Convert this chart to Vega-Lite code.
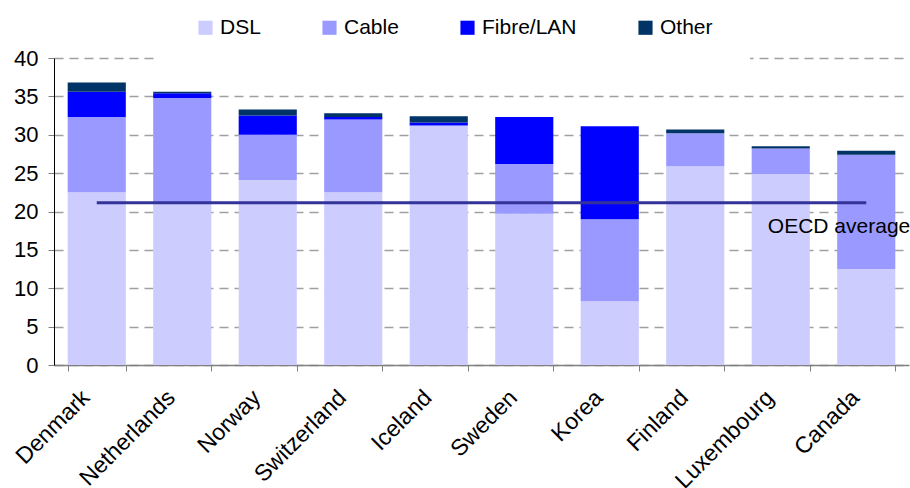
{
  "$schema": "https://vega.github.io/schema/vega-lite/v6.json",
  "width": 855,
  "height": 307,
  "autosize": {"type": "none"},
  "padding": {"left": 54, "top": 58, "right": 1, "bottom": 123},
  "background": "white",
  "config": {
    "view": {"stroke": null},
    "font": "Liberation Sans",
    "axis": {"labelFont": "Liberation Sans", "labelFontSize": 22, "labelColor": "black", "title": null, "zindex": 0},
    "axisX": {
      "labelAngle": -45, "labelAlign": "right", "labelBaseline": "top", "labelFontSize": 23,
      "labelPadding": 15, "labelOffset": -19, "tickBand": "extent", "tickColor": "#808080", "tickSize": 6,
      "domainColor": "#808080", "domainWidth": 1.5, "grid": false
    },
    "axisY": {
      "tickCount": 8, "labelOverlap": false, "tickColor": "#808080",
      "tickSize": 6, "domainColor": "black", "labelPadding": 10,
      "grid": true, "gridColor": "#a0a0a0", "gridDash": [9, 6], "gridWidth": 1.3
    },
    "legend": {"labelFont": "Liberation Sans", "labelFontSize": 21, "labelColor": "black"}
  },
  "datasets": {
    "access": [
      {"country": "Denmark", "type": "DSL", "k": 1, "value": 22.5},
      {"country": "Denmark", "type": "Cable", "k": 2, "value": 9.8},
      {"country": "Denmark", "type": "Fibre/LAN", "k": 3, "value": 3.3},
      {"country": "Denmark", "type": "Other", "k": 4, "value": 1.2},
      {"country": "Netherlands", "type": "DSL", "k": 1, "value": 21.0},
      {"country": "Netherlands", "type": "Cable", "k": 2, "value": 13.8},
      {"country": "Netherlands", "type": "Fibre/LAN", "k": 3, "value": 0.6},
      {"country": "Netherlands", "type": "Other", "k": 4, "value": 0.2},
      {"country": "Norway", "type": "DSL", "k": 1, "value": 24.1},
      {"country": "Norway", "type": "Cable", "k": 2, "value": 5.9},
      {"country": "Norway", "type": "Fibre/LAN", "k": 3, "value": 2.5},
      {"country": "Norway", "type": "Other", "k": 4, "value": 0.8},
      {"country": "Switzerland", "type": "DSL", "k": 1, "value": 22.5},
      {"country": "Switzerland", "type": "Cable", "k": 2, "value": 9.5},
      {"country": "Switzerland", "type": "Fibre/LAN", "k": 3, "value": 0.3},
      {"country": "Switzerland", "type": "Other", "k": 4, "value": 0.5},
      {"country": "Iceland", "type": "DSL", "k": 1, "value": 31.2},
      {"country": "Iceland", "type": "Cable", "k": 2, "value": 0.0},
      {"country": "Iceland", "type": "Fibre/LAN", "k": 3, "value": 0.4},
      {"country": "Iceland", "type": "Other", "k": 4, "value": 0.8},
      {"country": "Sweden", "type": "DSL", "k": 1, "value": 19.7},
      {"country": "Sweden", "type": "Cable", "k": 2, "value": 6.5},
      {"country": "Sweden", "type": "Fibre/LAN", "k": 3, "value": 6.1},
      {"country": "Sweden", "type": "Other", "k": 4, "value": 0.0},
      {"country": "Korea", "type": "DSL", "k": 1, "value": 8.3},
      {"country": "Korea", "type": "Cable", "k": 2, "value": 10.7},
      {"country": "Korea", "type": "Fibre/LAN", "k": 3, "value": 12.1},
      {"country": "Korea", "type": "Other", "k": 4, "value": 0.0},
      {"country": "Finland", "type": "DSL", "k": 1, "value": 25.9},
      {"country": "Finland", "type": "Cable", "k": 2, "value": 4.3},
      {"country": "Finland", "type": "Fibre/LAN", "k": 3, "value": 0.0},
      {"country": "Finland", "type": "Other", "k": 4, "value": 0.5},
      {"country": "Luxembourg", "type": "DSL", "k": 1, "value": 24.9},
      {"country": "Luxembourg", "type": "Cable", "k": 2, "value": 3.3},
      {"country": "Luxembourg", "type": "Fibre/LAN", "k": 3, "value": 0.0},
      {"country": "Luxembourg", "type": "Other", "k": 4, "value": 0.3},
      {"country": "Canada", "type": "DSL", "k": 1, "value": 12.5},
      {"country": "Canada", "type": "Cable", "k": 2, "value": 14.9},
      {"country": "Canada", "type": "Fibre/LAN", "k": 3, "value": 0.0},
      {"country": "Canada", "type": "Other", "k": 4, "value": 0.5}
    ],
    "oecd": [
      {"country": "Denmark", "avg": 21.15},
      {"country": "Netherlands", "avg": 21.15},
      {"country": "Norway", "avg": 21.15},
      {"country": "Switzerland", "avg": 21.15},
      {"country": "Iceland", "avg": 21.15},
      {"country": "Sweden", "avg": 21.15},
      {"country": "Korea", "avg": 21.15},
      {"country": "Finland", "avg": 21.15},
      {"country": "Luxembourg", "avg": 21.15},
      {"country": "Canada", "avg": 21.15}
    ],
    "label": [
      {"country": "Canada", "pos": 18.0, "text": "OECD average"}
    ]
  },
  "layer": [
    {
      "data": {"name": "access"},
      "mark": {"type": "bar", "opacity": 1},
      "encoding": {
        "x": {
          "field": "country", "type": "nominal", "sort": null,
          "scale": {"paddingInner": 0.32, "paddingOuter": 0.16}
        },
        "y": {
          "field": "value", "type": "quantitative", "stack": "zero",
          "scale": {"domain": [0, 40], "nice": false}
        },
        "color": {
          "field": "type", "type": "nominal",
          "scale": {"domain": ["DSL", "Cable", "Fibre/LAN", "Other"], "range": ["#CCCCFF", "#9999FF", "#0000FF", "#003366"]},
          "legend": {
            "title": null, "orient": "none", "direction": "horizontal",
            "legendX": 104, "legendY": -78, "padding": 37, "fillColor": "white",
            "columnPadding": 58,
            "symbolType": "square", "symbolSize": 200,
            "symbolStrokeWidth": 0, "labelOffset": 4
          }
        },
        "order": {"field": "k", "type": "quantitative"}
      }
    },
    {
      "data": {"name": "oecd"},
      "mark": {"type": "line", "color": "#333399", "strokeWidth": 3},
      "encoding": {
        "x": {"field": "country", "type": "nominal", "sort": null},
        "y": {"field": "avg", "type": "quantitative"}
      }
    },
    {
      "data": {"name": "label"},
      "mark": {"type": "text", "align": "right", "baseline": "middle", "fontSize": 21, "dx": 44, "color": "black"},
      "encoding": {
        "x": {"field": "country", "type": "nominal", "sort": null},
        "y": {"field": "pos", "type": "quantitative"},
        "text": {"field": "text"}
      }
    }
  ]
}
